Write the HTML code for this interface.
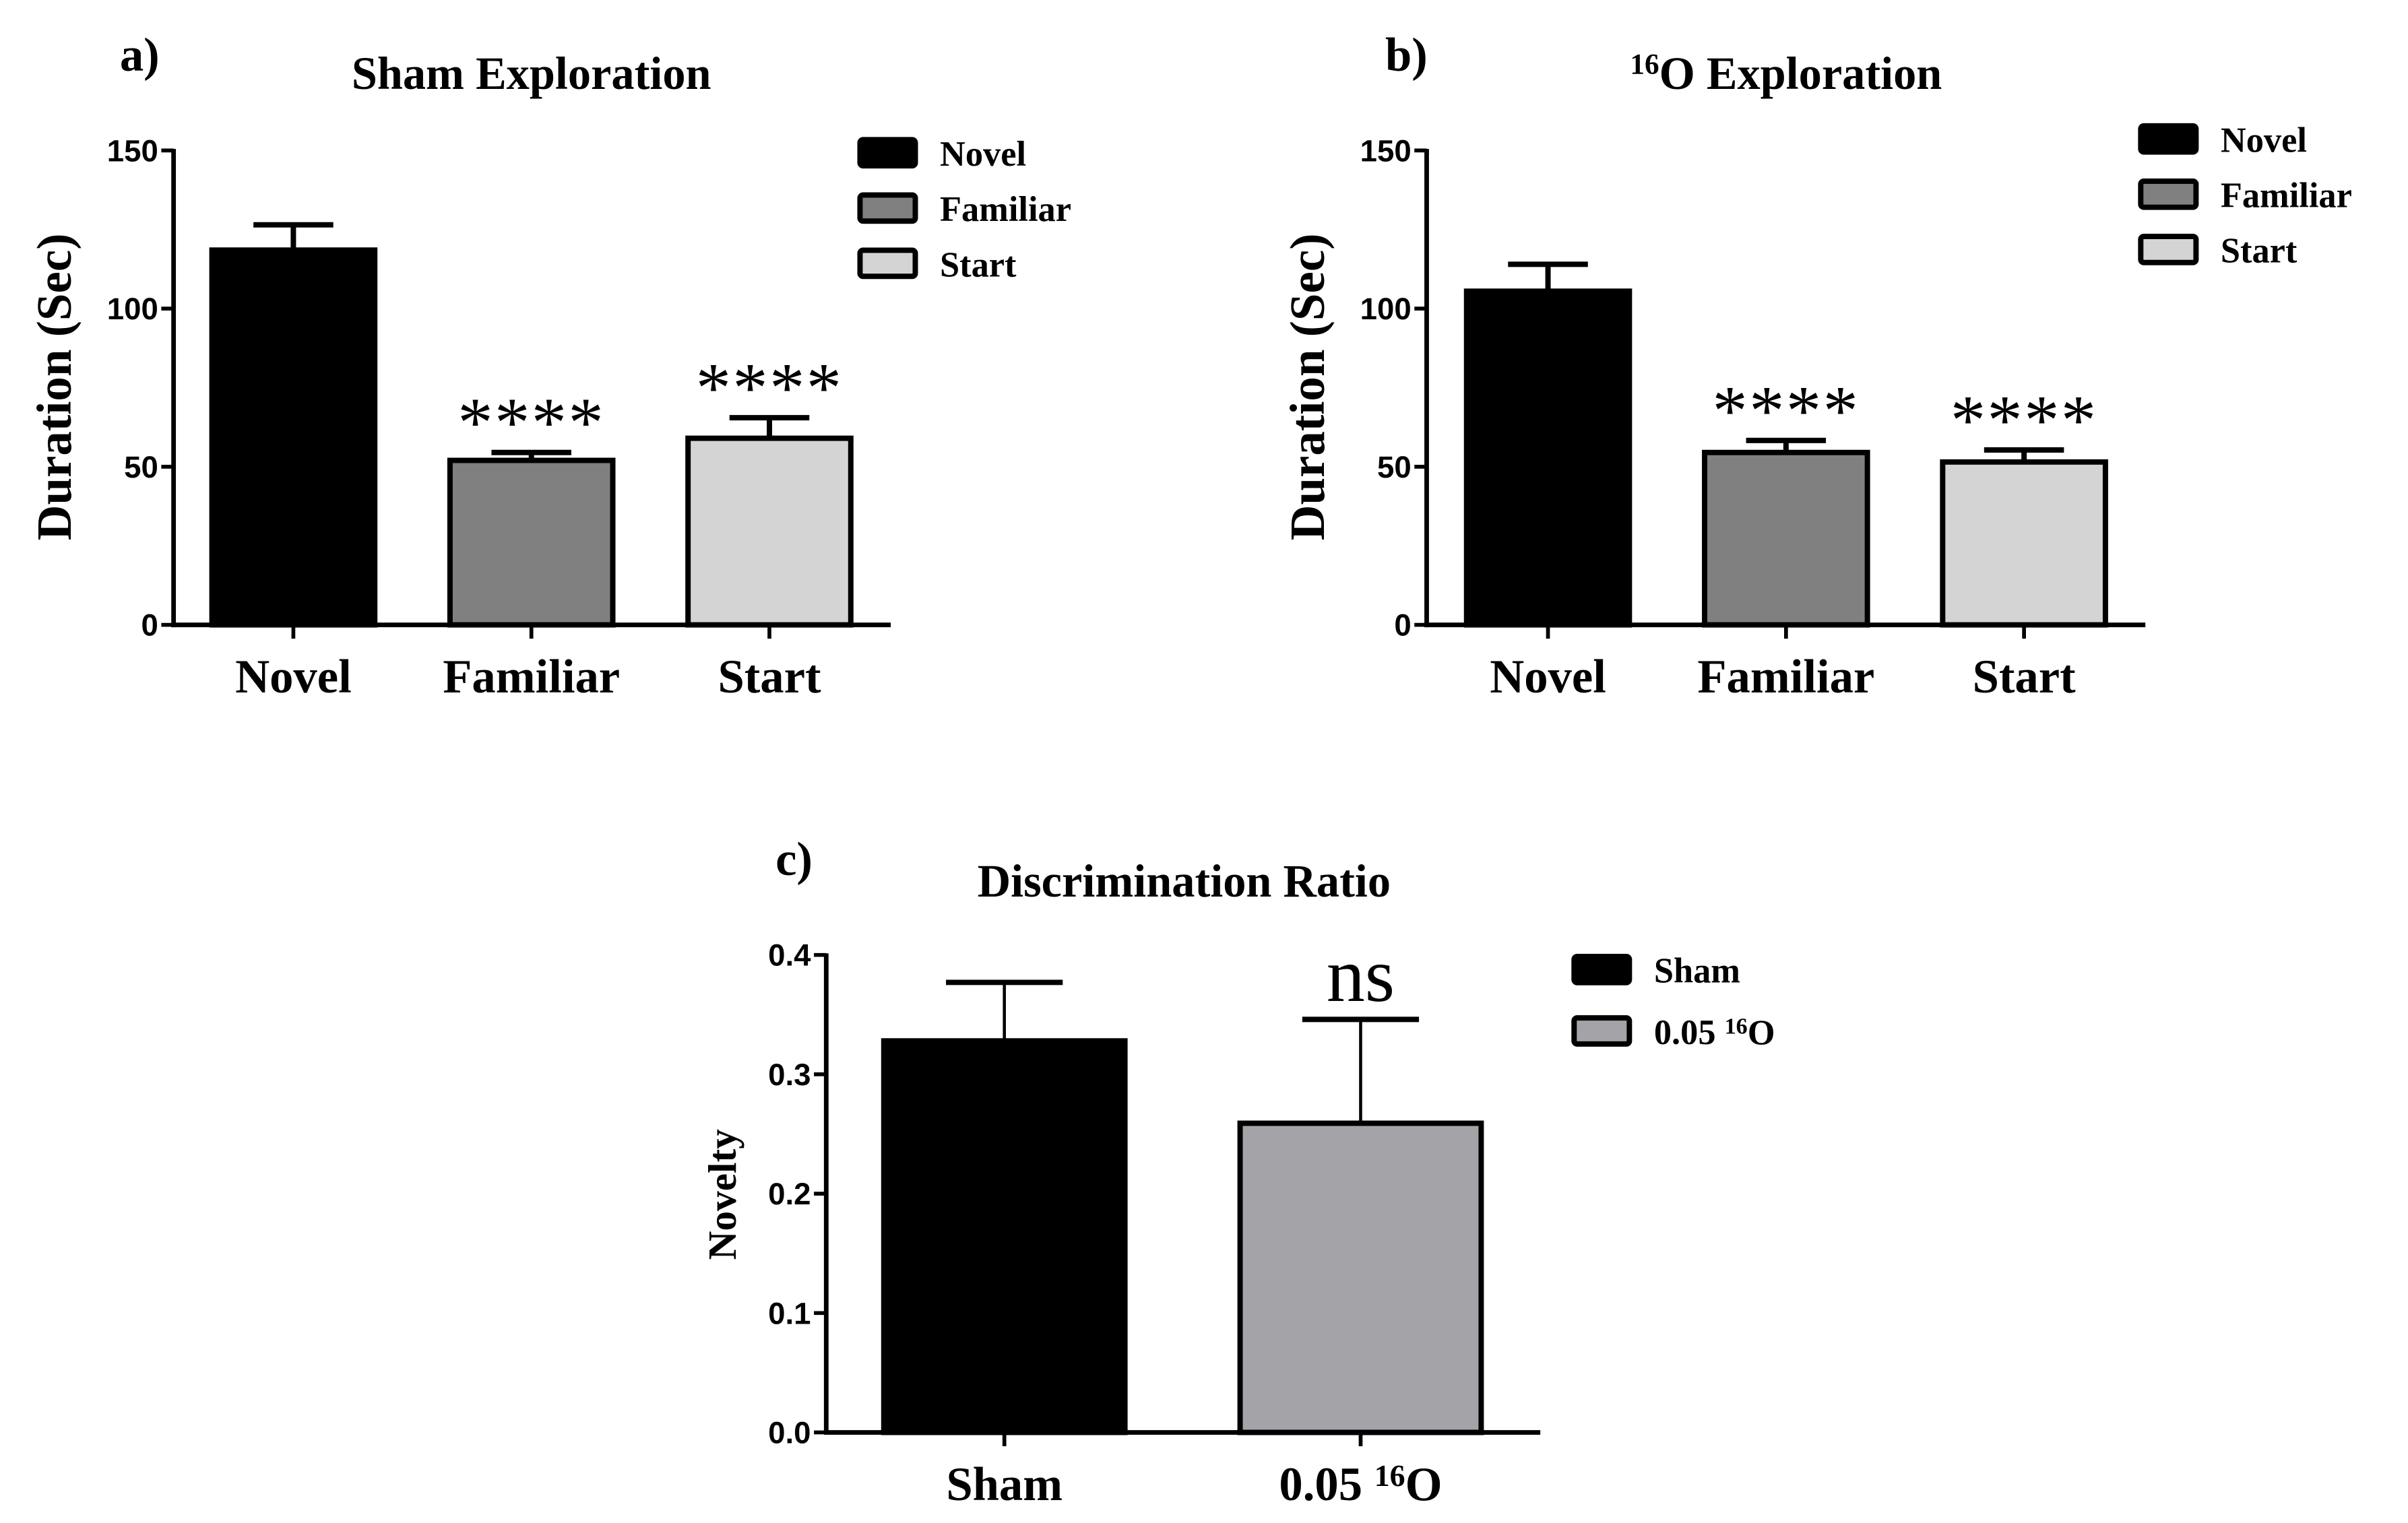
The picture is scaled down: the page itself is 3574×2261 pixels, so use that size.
<!DOCTYPE html>
<html><head><meta charset="utf-8"><style>
html,body{margin:0;padding:0;background:#fff;}
svg{display:block;}
.t{font-family:"Liberation Serif",serif;font-weight:bold;fill:#000;}
.n{font-family:"Liberation Sans",sans-serif;font-weight:bold;fill:#000;}
</style></head><body>
<svg id="fig" width="3574" height="2261" viewBox="0 0 1568 992" xmlns="http://www.w3.org/2000/svg"></svg>
<script>
// Panel a data
const aCategories = ["Novel","Familiar","Start"];
const aMeans = [118.5, 52, 59];
const aErrTop = [126.5, 54.5, 65.5];
const aStars = ["", "****", "****"];
// Panel b data
const bCategories = ["Novel","Familiar","Start"];
const bMeans = [105.5, 54.5, 51.5];
const bErrTop = [114, 58.3, 55.3];
const bStars = ["", "****", "****"];
// Panel c data
const cCategories = ["Sham","0.05 16O"];
const cMeans = [0.328, 0.259];
const cErrTop = [0.377, 0.346];
const cSig = ["", "ns"];
const durTicks = [0, 50, 100, 150];
const durTickLabels = ["0","50","100","150"];
const novTicks = [0, 0.1, 0.2, 0.3, 0.4];
const novTickLabels = ["0.0","0.1","0.2","0.3","0.4"];

const NS = "http://www.w3.org/2000/svg";
const svg = document.getElementById('fig');
function mk(tag, attrs, parent, text){
  const e = document.createElementNS(NS, tag);
  for (const k in attrs) e.setAttribute(k, attrs[k]);
  if (text !== undefined) e.textContent = text;
  (parent || svg).appendChild(e);
  return e;
}
function setLabel(el, t){
  if (t === "0.05 16O"){
    el.textContent = "0.05 ";
    const s = document.createElementNS(NS,'tspan');
    s.setAttribute('dy','-0.45em'); s.setAttribute('font-size','0.65em'); s.textContent='16';
    el.appendChild(s);
    const o = document.createElementNS(NS,'tspan');
    o.setAttribute('dy','0.3em'); o.textContent='O';
    el.appendChild(o);
  } else el.textContent = t;
}

function panel(cfg){
  const g = mk('g', {});
  
  
  const yScale = v => cfg.y0 - (v - cfg.ymin) / (cfg.ymax - cfg.ymin) * (cfg.y0 - cfg.y1);
  cfg.cats.forEach((c, i) => {
    const cx = cfg.centers[i];
    const top = yScale(cfg.means[i]);
    const et = yScale(cfg.err[i]);
    const el = mk('line', {x1:cx, y1:top, x2:cx, y2:et, stroke:'#000', 'stroke-width':cfg.errW}, g);
    
    
    const cap = mk('line', {x1:cx - cfg.capHalf, y1:et, x2:cx + cfg.capHalf, y2:et, stroke:'#000', 'stroke-width':3.5}, g);
    
    
    const r = mk('rect', {x:cx - cfg.barW/2, y:top, width:cfg.barW, height:cfg.y0 - top, fill:cfg.colors[i], stroke:'#000', 'stroke-width':3.5}, g);
    
    
    if (cfg.sig[i]) {
      const s = mk('text', {x:cx, y:et - cfg.sigGap, 'text-anchor':'middle', 'font-size':cfg.sigSize, style:'font-family:"Liberation Serif",serif;font-weight:normal;letter-spacing:' + cfg.sigSpacing + 'px'}, g, cfg.sig[i]);
      
      
    }
    const tk = mk('line', {x1:cx, y1:cfg.y0, x2:cx, y2:cfg.y0 + 9, stroke:'#000', 'stroke-width':2.5}, g);
    
    
    const xl = mk('text', {x:cx, y:cfg.y0 + 44, 'text-anchor':'middle', class:'t', 'font-size':cfg.xSize}, g);
    setLabel(xl, c);
    
    
  });
  const ya = mk('line', {x1:cfg.ax, y1:cfg.y1 - 1, x2:cfg.ax, y2:cfg.y0 + 1.5, stroke:'#000', 'stroke-width':3}, g);
  
  
  const xa = mk('line', {x1:cfg.ax - 1.5, y1:cfg.y0, x2:cfg.xend, y2:cfg.y0, stroke:'#000', 'stroke-width':3}, g);
  
  
  cfg.ticks.forEach((v, i) => {
    const y = yScale(v);
    const t = mk('line', {x1:cfg.ax - 8, y1:y, x2:cfg.ax, y2:y, stroke:'#000', 'stroke-width':2.5}, g);
    
    
    const l = mk('text', {x:cfg.ax - 10, y:y + 7, 'text-anchor':'end', class:'n', 'font-size':20}, g, cfg.tickLabels[i]);
    
    
  });
  const yt = mk('text', {x:0, y:0, 'text-anchor':'middle', class:'t', 'font-size':cfg.ytSize, transform:'translate(' + cfg.ytx + ',' + cfg.yty + ') rotate(-90)'}, g, cfg.ytitle);
  
  
  cfg.legend.forEach((L, i) => {
    const b = mk('rect', {x:cfg.lx, y:cfg.ly + i*cfg.lstep, width:36, height:17, rx:2, fill:cfg.colors[i], stroke:'#000', 'stroke-width':3.5}, g);
    
    
    const lt = mk('text', {x:cfg.lx + 52, y:cfg.ly + i*cfg.lstep + 17, class:'t', 'font-size':cfg.lSize}, g);
    setLabel(lt, L);
    
    
  });
}

const titles = [
  {x:78, y:46, s:31, t:'a)', n:'panel-a-label'},
  {x:346, y:58, s:30, t:'Sham Exploration', n:'panel-a-title', mid:1},
  {x:902, y:46, s:31, t:'b)', n:'panel-b-label'},
  {x:505, y:570, s:31, t:'c)', n:'panel-c-label'},
  {x:771, y:584, s:30, t:'Discrimination Ratio', n:'panel-c-title', mid:1}
];
titles.forEach(o => {
  const e = mk('text', {x:o.x, y:o.y, class:'t', 'font-size':o.s, 'text-anchor':o.mid ? 'middle' : 'start'}, svg, o.t);
  
  
});
const bt = mk('text', {x:1163, y:58, class:'t', 'font-size':30, 'text-anchor':'middle'});


bt.innerHTML = '<tspan dy="-10" font-size="19">16</tspan><tspan dy="10">O Exploration</tspan>';

panel({name:'panel-a-chart', cats:aCategories, means:aMeans, err:aErrTop, sig:aStars,
  centers:[191,346,501], barW:106, y0:407, y1:98, ymin:0, ymax:150, ax:113, xend:580,
  colors:['#000','#808080','#d4d4d4'], ticks:durTicks, tickLabels:durTickLabels,
  ytitle:'Duration (Sec)', ytx:46, yty:252, ytSize:32, xSize:31, errW:3.5, capHalf:26,
  sigGap:4, sigSize:46, sigSpacing:1,
  legend:['Novel','Familiar','Start'], lx:560, ly:91, lstep:36, lSize:23});
panel({name:'panel-b-chart', cats:bCategories, means:bMeans, err:bErrTop, sig:bStars,
  centers:[1008,1163,1318], barW:106, y0:407, y1:98, ymin:0, ymax:150, ax:929, xend:1397,
  colors:['#000','#808080','#d4d4d4'], ticks:durTicks, tickLabels:durTickLabels,
  ytitle:'Duration (Sec)', ytx:862, yty:252, ytSize:32, xSize:31, errW:3.5, capHalf:26,
  sigGap:4, sigSize:46, sigSpacing:1,
  legend:['Novel',' Familiar','Start'], lx:1394, ly:82, lstep:36, lSize:23});
panel({name:'panel-c-chart', cats:cCategories, means:cMeans, err:cErrTop, sig:cSig,
  centers:[654,886], barW:157, y0:933, y1:622, ymin:0, ymax:0.4, ax:538, xend:1003,
  colors:['#000','#a4a3a8'], ticks:novTicks, tickLabels:novTickLabels,
  ytitle:'Novelty', ytx:479, yty:778, ytSize:26, xSize:31, errW:2, capHalf:38,
  sigGap:12, sigSize:50, sigSpacing:0,
  legend:['Sham','0.05 16O'], lx:1025, ly:623, lstep:40, lSize:23});
</script>
</body></html>
